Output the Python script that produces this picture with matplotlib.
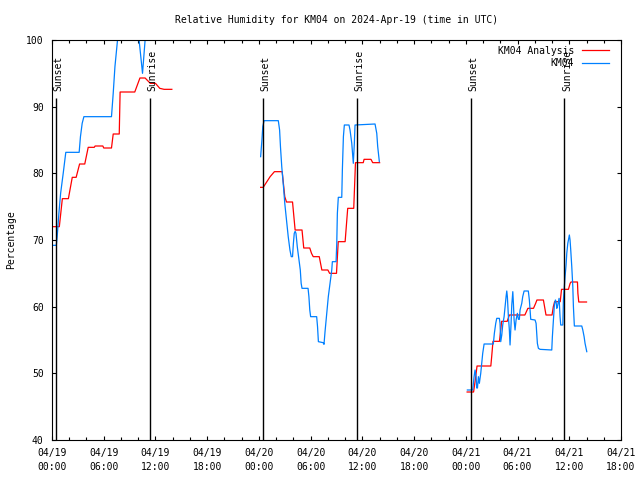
import numpy as np
import pandas as pd
import matplotlib
matplotlib.use('Agg')
import matplotlib.pyplot as plt
import matplotlib.dates as mdates
import matplotlib.transforms as mtransforms

nan = np.nan

# hours after 2024-04-19 00:00 UTC, nan marks a gap in the data
analysis_hours = [0.08, 0.85, 1.2, 1.9, 2.35, 2.8, 3.2, 3.8, 4.2, 4.9, 5.0, 5.9, 6.0, 6.9, 7.1, 7.8,
                  7.9, 9.6, 10.2, 10.8, 11.4, 12.0, 12.5, 13.0, 13.9,
                  18.0,
                  24.2, 24.5, 25.3, 25.8, 26.7, 27.0, 27.2, 27.9, 28.2, 29.0, 29.2, 29.9, 30.1, 30.3,
                  31.0, 31.3, 32.0, 32.2, 33.0, 33.2, 34.0, 34.3, 35.0, 35.2, 36.1, 36.2, 37.0, 37.2, 38.0,
                  44.0,
                  48.15, 48.9, 49.1, 49.3, 50.9, 51.0, 51.15, 51.9, 52.05, 52.15, 52.8, 53.05, 54.85,
                  55.2, 55.85, 56.1, 56.25, 57.0, 57.2, 57.3, 58.0, 58.15, 58.3, 58.95, 59.1, 59.9,
                  60.1, 60.2, 60.95, 61.0, 61.1, 62.0]
analysis_rh = [72.0, 72.0, 76.2, 76.2, 79.4, 79.4, 81.4, 81.4, 83.9, 83.9, 84.1, 84.1, 83.8, 83.8, 85.9, 85.9,
               92.2, 92.2, 94.3, 94.3, 93.5, 93.5, 92.75, 92.6, 92.6,
               nan,
               77.9, 77.9, 79.5, 80.25, 80.25, 76.5, 75.7, 75.7, 71.5, 71.5, 68.8, 68.8, 68.0, 67.5,
               67.5, 65.5, 65.5, 65.0, 65.0, 69.75, 69.75, 74.75, 74.75, 81.6, 81.6, 82.1, 82.1, 81.6, 81.6,
               nan,
               47.2, 47.2, 49.0, 51.1, 51.1, 52.5, 54.8, 54.8, 56.5, 57.8, 57.8, 58.75, 58.75,
               59.75, 59.75, 60.5, 61.0, 61.0, 59.5, 58.75, 58.75, 60.0, 60.75, 60.75, 62.6, 62.6,
               63.5, 63.7, 63.7, 62.0, 60.7, 60.7]

obs_hours = [0.08, 0.5, 0.6, 0.8, 1.0, 1.3, 1.6, 3.15, 3.3, 3.5, 3.7, 6.9, 7.1, 7.3, 7.6, 10.1, 10.5, 10.8,
             18.0,
             24.2, 24.35, 24.45, 24.6, 26.25, 26.4, 26.5, 26.65, 26.85, 27.0, 27.2, 27.4, 27.6, 27.75,
             27.9, 28.0, 28.1, 28.2, 28.3, 28.45, 28.6, 28.8, 28.9, 29.0, 29.7, 29.8, 29.9, 30.0, 30.7,
             30.8, 30.9, 31.45, 31.55, 31.67, 31.87, 32.05, 32.25, 32.45, 32.52, 32.95, 33.03, 33.1,
             33.21, 33.61, 33.68, 33.8, 33.91, 34.45, 34.57, 34.77, 34.95, 35.07, 35.15, 37.47, 37.67,
             37.78, 37.97,
             44.0,
             48.18, 48.8, 48.96, 49.07, 49.19, 49.27, 49.35, 49.46, 49.57, 49.73, 49.85, 49.96, 50.12,
             51.19, 51.31, 51.47, 51.59, 51.89, 51.97, 52.05, 52.17, 52.28, 52.44, 52.55, 52.67, 52.75,
             52.82, 52.94, 53.05, 53.13, 53.25, 53.33, 53.45, 53.52, 53.6, 53.71, 53.83, 53.98, 54.1,
             54.21, 54.29, 54.49, 54.6, 54.76, 55.25, 55.37, 55.45, 55.53, 56.03, 56.15, 56.23, 56.3,
             56.42, 56.61, 57.97, 58.04, 58.16, 58.27, 58.39, 58.47, 58.55, 58.62, 58.74, 58.82, 58.93,
             59.01, 59.25, 59.32, 59.4, 59.51, 59.63, 59.71, 59.83, 59.94, 60.01, 60.09, 60.17, 60.29,
             60.41, 60.48, 60.59, 61.45, 61.57, 61.72, 61.83, 61.95, 62.03]
obs_rh = [69.2, 69.2, 70.5, 74.0, 77.0, 80.0, 83.15, 83.15, 85.5, 87.5, 88.5, 88.5, 92.0, 96.0, 100.0, 100.0, 95.0, 100.0,
          nan,
          82.5, 85.0, 87.0, 87.9, 87.9, 86.5, 84.0, 81.0, 78.0, 75.5, 73.0, 70.5, 68.5, 67.5,
          67.5, 69.5, 71.0, 71.3, 71.0, 69.0, 67.5, 65.5, 63.5, 62.75, 62.75, 61.5, 59.5, 58.5, 58.5,
          57.0, 54.75, 54.6, 54.35, 56.25, 59.0, 61.5, 63.5, 65.5, 66.75, 66.75, 69.5, 74.0,
          76.4, 76.4, 80.5, 85.5, 87.25, 87.25, 86.5, 84.5, 81.5, 84.5, 87.25, 87.4, 86.0,
          84.0, 81.75,
          nan,
          47.5, 47.5, 49.5, 50.5, 49.5, 47.8, 47.8, 49.5, 48.5, 50.0, 51.5, 53.0, 54.4,
          54.4, 56.0, 57.5, 58.25, 58.25, 57.5, 54.75, 55.75, 57.25, 58.5, 60.0, 61.5, 62.35,
          61.5, 58.5, 56.5, 54.25, 57.5, 60.25, 62.25, 60.5, 58.0, 56.5, 58.0, 59.0, 58.1,
          58.1, 59.5, 60.5, 61.5, 62.35, 62.35, 61.0, 59.5, 58.1, 58.0, 57.5, 56.0, 54.5,
          53.75, 53.6, 53.5, 55.5, 58.0, 60.25, 61.0, 60.75, 59.75, 60.0, 60.75, 61.25, 58.5,
          57.25, 57.25, 61.0, 62.5, 64.5, 66.25, 68.0, 69.5, 70.25, 70.75, 70.0, 68.5, 66.0,
          63.0, 60.0, 57.1, 57.1, 56.5, 55.5, 54.5, 53.75, 53.25]

event_times = ['2024-04-19 00:28', '2024-04-19 11:22', '2024-04-20 00:31',
               '2024-04-20 11:25', '2024-04-21 00:34', '2024-04-21 11:26']
event_labels = ['Sunset', 'Sunrise', 'Sunset', 'Sunrise', 'Sunset', 'Sunrise']

start = pd.Timestamp('2024-04-19 00:00')
analysis_t = np.asarray(start + pd.to_timedelta(analysis_hours, unit='h'))
obs_t = np.asarray(start + pd.to_timedelta(obs_hours, unit='h'))

plt.rcParams['font.family'] = 'DejaVu Sans Mono'
plt.rcParams['font.size'] = 7

fig = plt.figure(figsize=(6.4, 4.8), dpi=100)
ax = fig.add_axes([52 / 640, 40 / 480, 569 / 640, 400 / 480])

ax.plot(analysis_t, analysis_rh, color='#ff0000', lw=0.9, label='KM04 Analysis')
ax.plot(obs_t, obs_rh, color='#0080ff', lw=0.9, label='KM04')

# sunset / sunrise markers
shift = mtransforms.offset_copy(ax.transData, fig=fig, x=2.5, y=0, units='dots')
for t, lab in zip(event_times, event_labels):
    t = pd.Timestamp(t)
    ax.vlines(t, 40, 91.3, color='black', lw=1.0)
    ax.text(t, 92.3, lab, rotation=90, ha='center', va='bottom', transform=shift)

ax.set_xlim(pd.Timestamp('2024-04-19 00:00'), pd.Timestamp('2024-04-21 18:00'))
ax.set_ylim(40, 100)
ax.set_yticks(range(40, 101, 10))
ax.xaxis.set_major_locator(mdates.HourLocator(byhour=[0, 6, 12, 18]))
ax.xaxis.set_minor_locator(mdates.HourLocator(byhour=range(0, 24, 2)))
ax.xaxis.set_major_formatter(mdates.DateFormatter('%m/%d\n%H:%M'))
for lbl in ax.get_xticklabels():
    lbl.set_linespacing(1.5)

ax.tick_params(which='both', direction='in', top=True, right=True, width=0.8)
ax.tick_params(which='major', length=3.2)
ax.tick_params(which='minor', length=2.5)
ax.tick_params(axis='y', pad=6)
ax.tick_params(axis='x', pad=6)
for s in ax.spines.values():
    s.set_linewidth(0.8)

# title centred over the plot area
ax.set_title('Relative Humidity for KM04 on 2024-Apr-19 (time in UTC)', fontsize=7, pad=12)
fig.text(11 / 640, 0.5, 'Percentage', rotation=90, ha='center', va='center')

ax.legend(loc='upper right', bbox_to_anchor=(0.989, 1.0), frameon=False, markerfirst=False,
          handlelength=2.8, handletextpad=0.8, labelspacing=0.25, borderaxespad=0.2)

fig.savefig('out.png', dpi=100)
